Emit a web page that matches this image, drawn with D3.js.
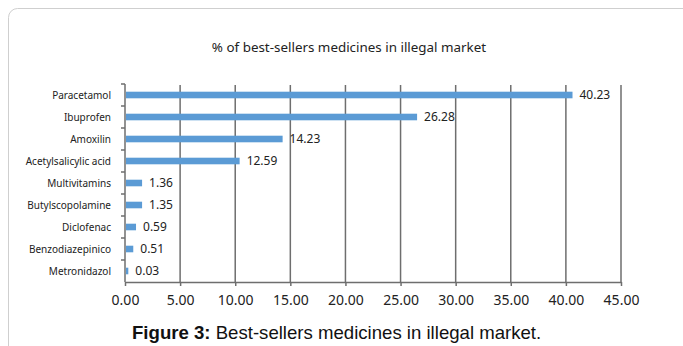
<!DOCTYPE html>
<html><head><meta charset="utf-8">
<script src="https://cdnjs.cloudflare.com/ajax/libs/d3/7.8.5/d3.min.js"></script>
<style>
html,body{margin:0;padding:0;background:#fff;}
svg{display:block;}
</style></head>
<body>
<script>
const categories = ["Paracetamol","Ibuprofen","Amoxilin","Acetylsalicylic acid","Multivitamins","Butylscopolamine","Diclofenac","Benzodiazepinico","Metronidazol"];
// bar lengths as drawn in the picture
const values = [40.6, 26.5, 14.3, 10.4, 1.55, 1.55, 1.0, 0.75, 0.3];
// printed value labels
const valueLabels = ["40.23","26.28","14.23","12.59","1.36","1.35","0.59","0.51","0.03"];
const xTicks = [0,5,10,15,20,25,30,35,40,45];
const title = "% of best-sellers medicines in illegal market";

(function(){
const W = 683, H = 346;
const svg = d3.select("body").append("svg").attr("width", W).attr("height", H);

// panel border
svg.append("rect").attr("x", 8.5).attr("y", 8.5).attr("width", 690).attr("height", 360)
  .attr("rx", 9).attr("fill", "#fff").attr("stroke", "#cfcfcf").attr("stroke-width", 1);

const pl = 125, pr = 621, pt = 84, pb = 282;
const x = d3.scaleLinear().domain([0,45]).range([pl,pr]);
const y = d3.scaleBand().domain(categories).range([pt,pb]).paddingInner(0.7).paddingOuter(0.35);
const yb = d3.scaleBand().domain(categories).range([pt,pb]);

const font = "'Noto Sans', 'Open Sans', sans-serif";

svg.append("text").attr("x", 349).attr("y", 52).attr("text-anchor","middle")
  .attr("font-family", font).attr("font-size", 13.4).attr("fill","#222").text(title);

// gridlines
svg.append("g").selectAll("line").data(xTicks.slice(1)).join("line")
  .attr("x1", d=>x(d)).attr("x2", d=>x(d)).attr("y1", pt+1).attr("y2", pb)
  .attr("stroke", "#6e6e6e").attr("stroke-width", 1.5);

// x axis
const xAxis = d3.axisBottom(x).tickValues(xTicks).tickFormat(d3.format(".2f")).tickSize(4).tickSizeOuter(0);
const gx = svg.append("g").attr("transform", `translate(0,${pb})`).call(xAxis);
gx.select(".domain").attr("stroke","#6e6e6e").attr("stroke-width",1.5);
gx.selectAll(".tick line").attr("stroke","#6e6e6e").attr("stroke-width",1.5);
gx.selectAll(".tick text").attr("font-family", font).attr("font-size", 14).attr("fill","#222").attr("dy", null).attr("y", 23);

// y axis
const gy = svg.append("g");
gy.append("line").attr("x1", pl).attr("x2", pl).attr("y1", pt).attr("y2", pb)
  .attr("stroke","#6e6e6e").attr("stroke-width",1.5);
gy.selectAll("line.yt").data(categories).join("line").attr("class","yt")
  .attr("x1", pl-4).attr("x2", pl).attr("y1", d=>yb(d)).attr("y2", d=>yb(d))
  .attr("stroke","#6e6e6e").attr("stroke-width",1.5);
gy.selectAll("text").data(categories).join("text")
  .attr("x", 111).attr("y", d=>yb(d)+yb.bandwidth()/2).attr("dy","0.35em")
  .attr("text-anchor","end").attr("font-family", font).attr("font-size", 10).attr("fill","#222")
  .text(d=>d);

// bars
svg.append("g").selectAll("rect").data(values).join("rect")
  .attr("x", pl+1).attr("y", (d,i)=>y(categories[i]))
  .attr("width", d=>x(d)-pl-1).attr("height", y.bandwidth())
  .attr("fill", "#5b9bd5");

svg.append("g").selectAll("text").data(values).join("text")
  .attr("x", d=>x(d)+7).attr("y", (d,i)=>y(categories[i])+y.bandwidth()/2).attr("dy","0.35em")
  .attr("font-family", font).attr("font-size", 12).attr("fill","#222")
  .text((d,i)=>valueLabels[i]);

// caption
const cap = svg.append("text").attr("x", 132).attr("y", 339)
  .attr("font-family", "'Liberation Sans', Arial, sans-serif").attr("font-size", 18.6).attr("fill","#111");
cap.append("tspan").attr("font-weight","bold").text("Figure 3:");
cap.append("tspan").text(" Best-sellers medicines in illegal market.");
})();
</script>
</body></html>
